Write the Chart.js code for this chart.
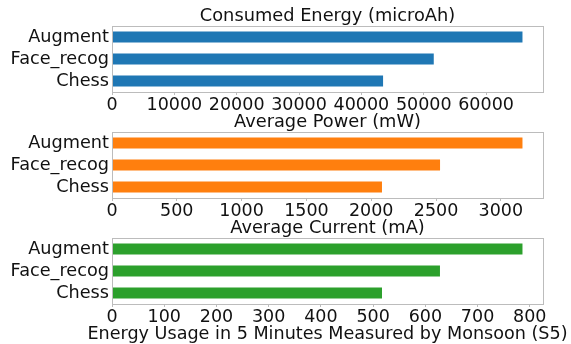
<!DOCTYPE html>
<html>
<head>
<meta charset="utf-8">
<script src="https://cdn.jsdelivr.net/npm/chart.js@4"></script>
<style>
  html, body { margin: 0; padding: 0; background: #fff; }
  #wrap { position: relative; width: 571px; height: 344px; overflow: hidden; }
  #wrap canvas { position: absolute; left: 0; }
</style>
</head>
<body>
<div id="wrap">
  <canvas id="c1"></canvas>
  <canvas id="c2"></canvas>
  <canvas id="c3"></canvas>
</div>
<script>
// apps tested
const apps = ['Augment', 'Face_recog', 'Chess'];

// measurements per app
const energy = [65840, 51610, 43480];   // microAh
const power = [3167, 2531, 2083];       // mW
const current = [786, 628, 517];        // mA

// x ticks for each panel
const energyTicks = [0, 10000, 20000, 30000, 40000, 50000, 60000];
const powerTicks = [0, 500, 1000, 1500, 2000, 2500, 3000];
const currentTicks = [0, 100, 200, 300, 400, 500, 600, 700, 800];

const titles = ['Consumed Energy (microAh)', 'Average Power (mW)', 'Average Current (mA)'];
const colors = ['#1f77b4', '#ff7f0e', '#2ca02c'];
const xLabel = 'Energy Usage in 5 Minutes Measured by Monsoon (S5)';

const FONT = 'DejaVu Sans';
const TEXT = '#111';
const SPINE = '#bcbcbc';

// box around plot + title on top (and x label on the last one)
const framePlugin = {
    id: 'frame',
    afterDraw(chart, args, opts) {
        const a = chart.chartArea, ctx = chart.ctx;
        ctx.save();
        ctx.strokeStyle = SPINE;
        ctx.lineWidth = 1;
        ctx.strokeRect(Math.round(a.left) + 0.5, Math.round(a.top) + 0.5,
            Math.round(a.right - a.left), Math.round(a.bottom - a.top));
        ctx.fillStyle = TEXT;
        ctx.textAlign = 'center';
        ctx.textBaseline = 'alphabetic';
        ctx.font = '17.8px "' + FONT + '"';
        ctx.fillText(opts.title, (a.left + a.right) / 2, a.top - 5);
        if (opts.xlabel) {
            ctx.font = '17.6px "' + FONT + '"';
            ctx.fillText(opts.xlabel, (a.left + a.right) / 2, a.bottom + 35);
        }
        ctx.restore();
    }
};

function makePanel(id, top, values, ticks, i, withLabel) {
    const canvas = document.getElementById(id);
    canvas.style.top = top + 'px';
    const h = withLabel ? 344 - top : 130;
    canvas.width = 571; canvas.height = h;
    canvas.style.width = '571px'; canvas.style.height = h + 'px';
    const xmax = Math.max(...values) * 1.05;

    return new Chart(canvas, {
        type: 'bar',
        data: {
            labels: apps,
            datasets: [{
                data: values,
                backgroundColor: colors[i],
                borderWidth: 0,
                barPercentage: 0.5,
                categoryPercentage: 1.0
            }]
        },
        options: {
            indexAxis: 'y',
            responsive: false,
            animation: false,
            devicePixelRatio: 1,
            layout: { padding: { left: 0, right: 28, top: 26, bottom: h - 26 - 66 - 24 } },
            plugins: {
                legend: { display: false },
                tooltip: { enabled: false },
                frame: { title: titles[i], xlabel: withLabel ? xLabel : null }
            },
            scales: {
                x: {
                    min: 0,
                    max: xmax,
                    border: { display: false },
                    grid: { drawOnChartArea: false, drawTicks: true, tickLength: 3, color: SPINE },
                    afterBuildTicks(scale) { scale.ticks = ticks.map(v => ({ value: v })); },
                    ticks: {
                        maxRotation: 0,
                        autoSkip: false,
                        padding: 0,
                        color: TEXT,
                        font: { family: FONT, size: 17.5 },
                        callback: v => String(v)
                    },
                    afterFit(scale) { scale.height = 24; }
                },
                y: {
                    border: { display: false },
                    grid: { display: false, drawTicks: false },
                    ticks: {
                        autoSkip: false,
                        padding: 3,
                        color: TEXT,
                        font: { family: FONT, size: 17.7 }
                    },
                    afterFit(scale) { scale.width = 112; }
                }
            }
        },
        plugins: [framePlugin]
    });
}

makePanel('c1', 0, energy, energyTicks, 0, false);
makePanel('c2', 106, power, powerTicks, 1, false);
makePanel('c3', 212, current, currentTicks, 2, true);
</script>
</body>
</html>
